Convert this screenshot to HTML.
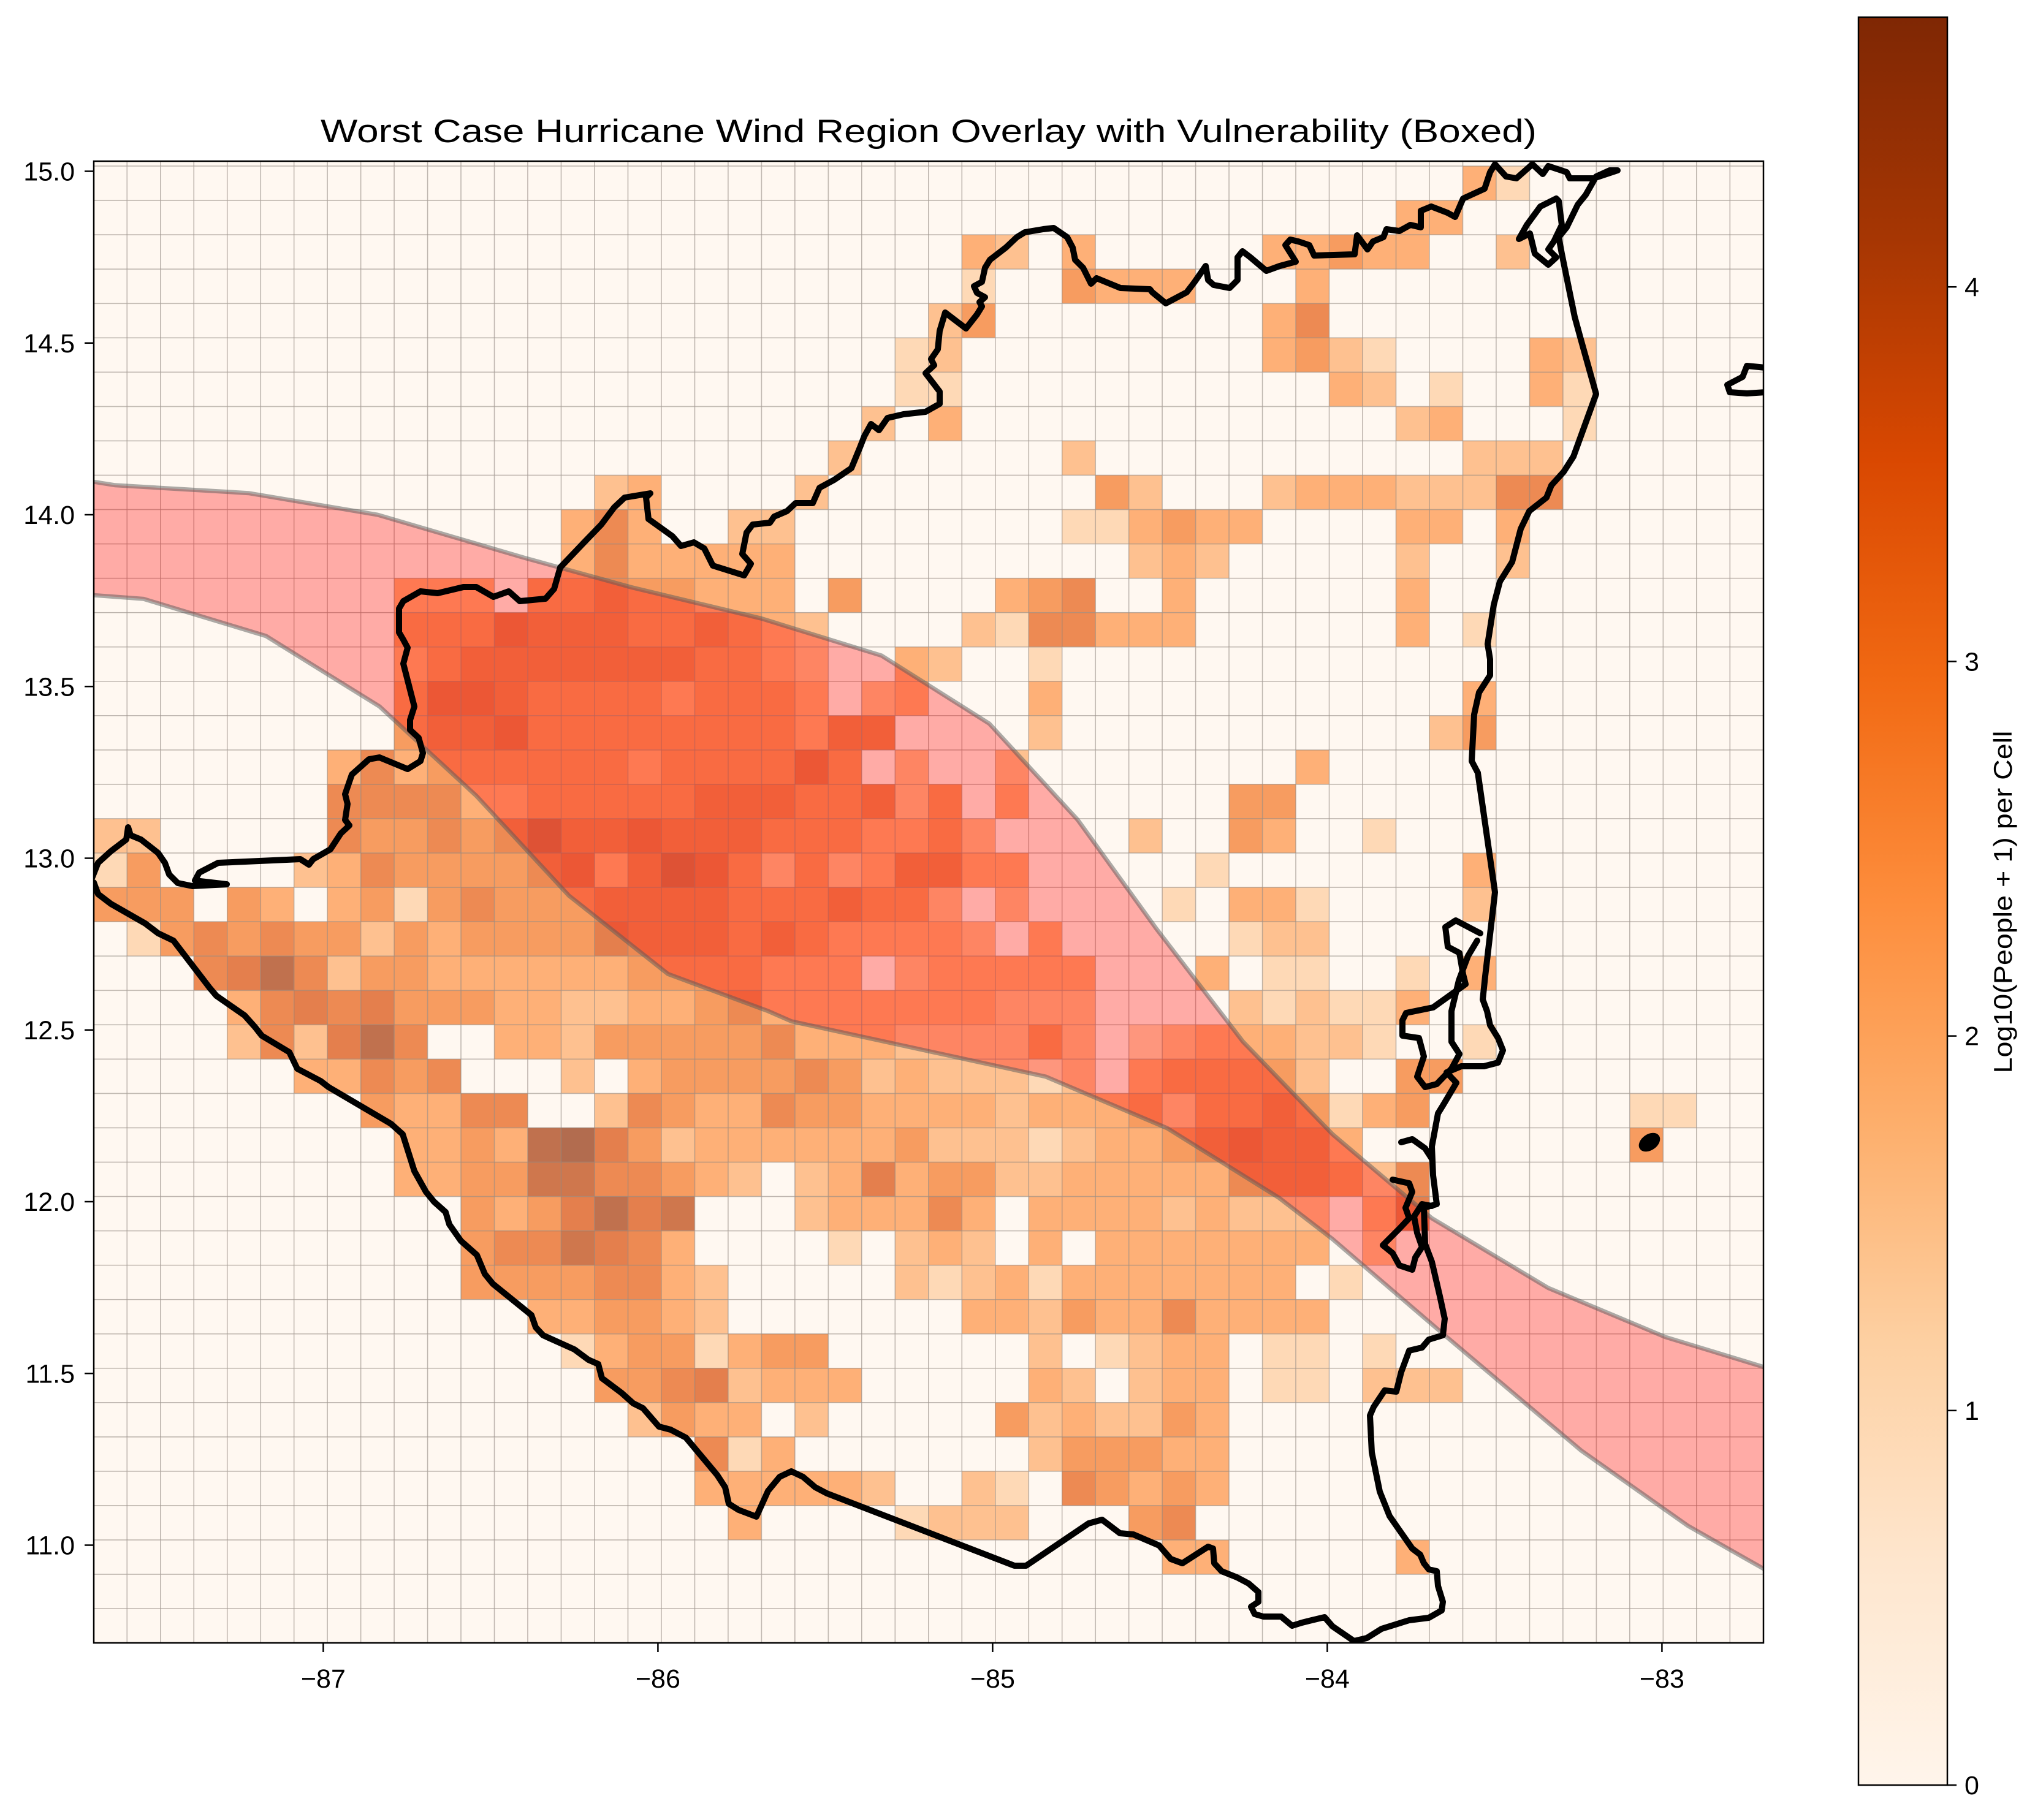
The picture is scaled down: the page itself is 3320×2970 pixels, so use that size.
<!DOCTYPE html>
<html><head><meta charset="utf-8">
<style>
html,body{margin:0;padding:0;background:#fff;}
svg{display:block;}
text{font-family:"Liberation Sans",sans-serif;fill:#000;}
</style></head>
<body>
<svg id="fig" width="3320" height="2970" viewBox="0 0 3320 2970" xmlns="http://www.w3.org/2000/svg">
<defs>
  <clipPath id="plotclip"><rect x="153" y="263" width="2724" height="2418"/></clipPath>
  <linearGradient id="cbgrad" x1="0" y1="1" x2="0" y2="0">
    <stop offset="0" stop-color="#fff5eb"/><stop offset="0.125" stop-color="#fee6ce"/>
    <stop offset="0.25" stop-color="#fdd0a2"/><stop offset="0.375" stop-color="#fdae6b"/>
    <stop offset="0.5" stop-color="#fd8d3c"/><stop offset="0.625" stop-color="#f16913"/>
    <stop offset="0.75" stop-color="#d94801"/><stop offset="0.875" stop-color="#a63603"/>
    <stop offset="1" stop-color="#7f2704"/>
  </linearGradient>
</defs>
<rect x="0" y="0" width="3320" height="2970" fill="#fff"/>
<text x="1515" y="232" font-size="53" text-anchor="middle" textLength="1984" lengthAdjust="spacingAndGlyphs">Worst Case Hurricane Wind Region Overlay with Vulnerability (Boxed)</text>
<g id="plot" clip-path="url(#plotclip)">
  <rect x="153" y="263" width="2724" height="2418" fill="#fff"/>
  <g id="cells"></g>
  <g id="band"></g>
  <g id="coast" fill="none" stroke="#000" stroke-width="10" stroke-linejoin="round" stroke-linecap="round">
    <path d="M153,1440 L160,1459 L181,1475 L237,1507 L258,1523 L283,1535 L342,1612 L353,1625 L399,1657 L416,1676 L427,1690 L472,1717 L485,1744 L523,1764 L536,1774 L638,1834 L657,1851 L676,1911 L695,1945 L708,1961 L727,1978 L733,1998 L752,2025 L778,2048 L791,2079 L804,2095 L867,2146 L874,2166 L886,2179 L937,2202 L960,2219 L976,2226 L982,2249 L1014,2273 L1033,2290 L1049,2298 L1075,2328 L1094,2333 L1119,2346 L1170,2407 L1183,2427 L1189,2454 L1205,2464 L1234,2475 L1253,2433 L1272,2410 L1291,2401 L1310,2410 L1330,2427 L1349,2437 L1655,2555 L1674,2555 L1776,2486 L1798,2480 L1827,2502 L1849,2504 L1891,2522 L1910,2544 L1929,2551 L1971,2524 L1979,2527 L1981,2551 L1993,2564 L2018,2574 L2037,2584 L2053,2598 L2053,2614 L2041,2622 L2047,2634 L2061,2638 L2090,2638 L2108,2653 L2124,2648 L2140,2644 L2161,2639 L2174,2654 L2209,2678 L2230,2673 L2254,2658 L2299,2644 L2331,2640 L2352,2628 L2354,2614 L2346,2588 L2344,2564 L2331,2561 L2323,2551 L2317,2537 L2304,2527 L2283,2497 L2267,2474 L2251,2434 L2238,2370 L2235,2310 L2241,2296 L2259,2269 L2278,2271 L2286,2239 L2299,2204 L2320,2199 L2331,2186 L2354,2179 L2357,2152 L2349,2115 L2336,2059 L2325,2030 L2323,1971 L2344,1965 L2338,1918 L2336,1871 L2346,1817 L2354,1804 L2376,1767 L2360,1750 L2384,1740 L2421,1740 L2444,1734 L2452,1714 L2444,1694 L2431,1673 L2426,1650 L2419,1631 L2423,1593 L2439,1456 L2411,1261 L2401,1242 L2405,1166 L2413,1130 L2431,1102 L2431,1076 L2427,1051 L2437,987 L2447,949 L2467,917 L2481,863 L2495,834 L2523,812 L2531,792 L2551,770 L2567,745 L2604,643 L2578,550 L2569,517 L2548,414 L2543,387 L2556,371 L2574,334 L2587,318 L2604,288 L2626,278 L2639,278 L2600,291 L2561,291 L2556,281 L2526,271 L2517,284 L2500,268 L2474,291 L2457,288 L2439,268 L2431,281 L2422,308 L2387,324 L2374,354 L2361,347 L2335,337 L2318,344 L2318,371 L2301,367 L2283,377 L2262,374 L2257,387 L2240,394 L2231,407 L2214,384 L2210,415 L2144,417 L2136,400 L2118,394 L2105,391 L2097,400 L2114,427 L2088,434 L2066,442 L2040,420 L2027,410 L2019,420 L2019,457 L2006,470 L1980,465 L1971,457 L1967,434 L1949,460 L1936,477 L1902,495 L1880,477 L1876,472 L1828,470 L1789,454 L1780,463 L1767,437 L1754,424 L1750,404 L1741,387 L1719,372 L1702,374 L1672,379 L1659,387 L1641,404 L1615,424 L1607,437 L1602,460 L1589,467 L1594,478 L1607,485 L1598,493 L1602,500 L1594,513 L1576,536 L1555,520 L1542,510 L1533,540 L1530,570 L1519,586 L1524,596 L1510,609 L1533,639 L1533,659 L1510,672 L1474,676 L1448,682 L1434,702 L1421,692 L1410,712 L1403,730 L1389,764 L1361,783 L1337,796 L1326,821 L1298,821 L1284,834 L1263,843 L1256,853 L1228,856 L1218,869 L1211,904 L1225,920 L1214,939 L1163,923 L1149,895 L1132,885 L1111,891 L1097,875 L1058,847 L1054,812 L1061,805 L1019,812 L1002,828 L981,856 L953,885 L914,926 L904,961 L890,977 L848,981 L830,965 L805,974 L777,958 L756,958 L714,968 L686,965 L658,981 L651,993 L651,1032 L658,1044 L665,1057 L658,1083 L676,1153 L669,1175 L669,1191 L683,1204 L690,1229 L686,1242 L665,1255 L619,1236 L602,1239 L574,1264 L563,1296 L567,1312 L563,1338 L570,1347 L556,1360 L539,1386 L511,1402 L504,1411 L490,1402 L356,1408 L325,1424 L318,1437 L370,1443 L314,1446 L290,1441 L276,1427 L269,1408 L258,1392 L230,1370 L213,1363 L209,1350 L206,1370 L181,1389 L160,1408 L150,1433"/>
    <path d="M2415,1523 L2375,1502 L2358,1513 L2362,1545 L2381,1555 L2387,1590 L2391,1606 L2338,1644 L2294,1653 L2288,1665 L2288,1690 L2315,1694 L2323,1724 L2312,1757 L2325,1774 L2344,1769 L2368,1744 L2381,1720 L2368,1700 L2368,1650 L2380,1600 L2395,1560 L2410,1535"/>
    <path d="M2286,1864 L2304,1859 L2325,1874 L2336,1891 M2272,1925 L2299,1931 L2304,1945 L2293,1971 L2299,1988 L2283,2005 L2256,2032 L2272,2045 L2283,2065 L2304,2072 L2309,2052 L2320,2035 L2312,2012 L2307,1985 L2320,1965 L2336,1968"/>
    <path d="M2539,324 L2513,337 L2491,367 L2478,390 L2496,381 L2504,414 L2526,432 L2539,420 L2526,407 L2535,394 L2548,367 L2543,328 Z"/>
    <path d="M2880,600 L2850,597 L2843,615 L2818,628 L2822,640 L2850,642 L2880,640"/>
    <ellipse cx="2691" cy="1864" rx="17" ry="11" fill="#000" stroke-width="4" transform="rotate(-35 2691 1864)"/>
  </g>
</g>
<rect x="153" y="263" width="2724" height="2418" fill="none" stroke="#000" stroke-width="2.5"/>
<g id="xaxis"></g>
<g id="yaxis"></g>
<g id="colorbar">
  <rect x="3032" y="28" width="145" height="2885" fill="url(#cbgrad)" stroke="#000" stroke-width="2.5"/>
  <text transform="translate(3282,1472) rotate(-90)" font-size="42" text-anchor="middle" textLength="559" lengthAdjust="spacingAndGlyphs">Log10(People + 1) per Cell</text>
</g>
</svg>
<script>
const levelRows = [
"0000000000 0000000000 0000000000 0000000000 0000000000",
"0000000000 0000000000 0000000000 0000000000 0310000000",
"0000000000 0000000000 0000000000 0000000003 3000000000",
"0000000000 0000000000 0000003203 0000033433 0020000000",
"0000000000 0000000000 0000001004 3330003000 0000000000",
"0000000000 0000000000 0000024000 0000035000 0000000000",
"0000000000 0000000000 0000120000 0000034210 0003200000",
"0000000000 0000000000 0000110000 0000000320 1003100000",
"0000000000 0000000000 0002030000 0000000002 3000100000",
"0000000000 0000000000 0020000002 0000000000 0222000000",
"0000000000 0000023000 0200000000 4200023332 2255000000",
"0000000000 0000353002 2000000001 1343300003 3030000000",
"0000000000 0000353333 3000000000 0232000002 0020000000",
"0000000003 3304454433 3040000345 0030000003 0000000000",
"0000000004 4465554454 3200002155 3330000003 0100000000",
"0000000003 4555555544 3200320010 0000000000 0000000000",
"0000000004 6654444344 4302300030 0000000000 0300000000",
"0000000004 5564444444 4355000020 0000000000 2400000000",
"0000000353 4444443444 4640200200 0000003000 0000000000",
"0000000555 5334444455 5445240300 0000440000 0000000000",
"2200000544 5457556555 4443342000 0200430010 0000000000",
"1400002354 4445635764 2423553300 0001000000 0300000000",
"4440430341 4544455554 4454420200 0010331000 0200000000",
"0145454424 3444465554 5433332030 0000122000 0000000000",
"0005685244 3333334444 3330233333 0003011001 0300000000",
"0000356564 4433223345 3333333222 0000212113 0000000000",
"0000252685 0033244444 5333222242 0123332210 0100000000",
"0000003354 5000203444 4542322212 0344442004 4000000000",
"0000000043 3550025433 5443333233 3424454134 0000001100",
"0000000003 3438964233 3333422212 3345655300 0000004000",
"0000000003 3447755432 0236344223 3333555425 0000000000",
"0000000000 0434686700 0233353033 3323222036 0000000000",
"0000000000 0455765300 0010232030 3333333020 0000000000",
"0000000000 0444455320 0000212313 3333330100 0000000000",
"0000000000 0003344320 0000003324 3353333000 0000000000",
"0000000000 0000134413 4400000020 1233011010 0000000000",
"0000000000 0000044562 3330000032 0233011022 2000000000",
"0000000000 0000002433 0200000423 2243000000 0000000000",
"0000000000 0000000051 3000000024 4433000000 0000000000",
"0000000000 0000000033 3332002105 4343000000 0000000000",
"0000000000 0000000003 0000122200 0450000000 0000000000",
"0000000000 0000000000 0000000000 0033000003 0000000000",
"0000000000 0000000000 0000000000 0000000000 0000000000",
"0000000000 0000000000 0000000000 0000000000 0000000000"
];
const levelValues = [0, 1.3, 1.9, 2.35, 2.8, 3.25, 3.55, 3.9, 4.15, 4.45];
const colorMax = 4.72;
const gridLon0 = -87.686;
const gridLonStep = 0.09978;
const gridLatTop = 15.115;
const gridLatStep = 0.1;
const xTickValues = [-87, -86, -85, -84, -83];
const xTickLabels = ["\u221287", "\u221286", "\u221285", "\u221284", "\u221283"];
const yTickValues = [15.0, 14.5, 14.0, 13.5, 13.0, 12.5, 12.0, 11.5, 11.0];
const yTickLabels = ["15.0", "14.5", "14.0", "13.5", "13.0", "12.5", "12.0", "11.5", "11.0"];
const cbTickValues = [0, 1, 2, 3, 4];
const cbTickLabels = ["0", "1", "2", "3", "4"];
const bandUpperLon = [-87.75, -87.686, -87.622, -87.223, -86.838, -86.400, -86.080, -85.691, -85.332, -85.010, -84.746, -84.510, -84.252, -83.984, -83.688, -83.340, -82.990, -82.727, -82.65];
const bandUpperLat = [14.097, 14.096, 14.086, 14.063, 14.000, 13.875, 13.789, 13.698, 13.590, 13.392, 13.112, 12.794, 12.466, 12.196, 11.952, 11.749, 11.606, 11.528, 11.505];
const bandLowerLon = [-87.75, -87.686, -87.537, -87.171, -86.832, -86.543, -86.266, -85.970, -85.671, -85.601, -84.841, -84.478, -84.144, -83.984, -83.649, -83.242, -82.922, -82.727, -82.65];
const bandLowerLat = [13.767, 13.766, 13.755, 13.647, 13.442, 13.182, 12.891, 12.663, 12.555, 12.525, 12.364, 12.214, 12.011, 11.891, 11.611, 11.276, 11.056, 10.948, 10.906];

const NS = "http://www.w3.org/2000/svg";
function xScale(lon){ return 527.4 + (lon + 87) * 546; }
function yScale(lat){ return 279.5 + (15 - lat) * 560.5; }
function cbScale(v){ return 2913 - v * 611.2; }
const OR = [[255,245,235],[254,230,206],[253,208,162],[253,174,107],[253,141,60],[241,105,19],[217,72,1],[166,54,3],[127,39,4]];
function oranges(v){
  let t = Math.max(0, Math.min(1, v / colorMax)) * 8;
  let i = Math.min(7, Math.floor(t)), f = t - i;
  const a = OR[i], b = OR[i+1];
  return "rgb(" + [0,1,2].map(k => Math.round(a[k] + (b[k]-a[k]) * f)).join(",") + ")";
}
function mk(tag, attrs){ const e = document.createElementNS(NS, tag); for (const k in attrs) e.setAttribute(k, attrs[k]); return e; }

const cellsG = document.getElementById("cells");
levelRows.forEach((rowStr, r) => {
  const row = rowStr.replace(/ /g, "");
  for (let c = 0; c < row.length; c++) {
    const v = levelValues[+row[c]];
    const x0 = xScale(gridLon0 + c * gridLonStep), x1 = xScale(gridLon0 + (c+1) * gridLonStep);
    const y0 = yScale(gridLatTop - r * gridLatStep), y1 = yScale(gridLatTop - (r+1) * gridLatStep);
    const rect = mk("rect", {x: x0, y: y0, width: x1 - x0, height: y1 - y0, fill: oranges(v), "fill-opacity": 0.7, stroke: "#9a9089", "stroke-opacity": 0.45, "stroke-width": 1.6});
    
    
    cellsG.appendChild(rect);
  }
});

const bandG = document.getElementById("band");
const up = bandUpperLon.map((lo, i) => xScale(lo).toFixed(1) + "," + yScale(bandUpperLat[i]).toFixed(1));
const lowPts = bandLowerLon.map((lo, i) => xScale(lo).toFixed(1) + "," + yScale(bandLowerLat[i]).toFixed(1));
const poly = mk("polygon", {points: up.concat(lowPts.slice().reverse()).join(" "), fill: "rgb(255,0,0)", "fill-opacity": 0.31, stroke: "none"});


bandG.appendChild(poly);
const upLine = mk("polyline", {points: up.join(" "), fill: "none", stroke: "rgb(90,90,90)", "stroke-opacity": 0.5, "stroke-width": 7});


bandG.appendChild(upLine);
const lowLine = mk("polyline", {points: lowPts.join(" "), fill: "none", stroke: "rgb(90,90,90)", "stroke-opacity": 0.5, "stroke-width": 7});


bandG.appendChild(lowLine);

const xG = document.getElementById("xaxis");
xTickValues.forEach((v, i) => {
  const x = xScale(v);
  const t = mk("line", {x1: x, y1: 2681, x2: x, y2: 2696, stroke: "#000", "stroke-width": 2.5});
  
  
  xG.appendChild(t);
  const lb = mk("text", {x: x, y: 2754, "font-size": 43, "text-anchor": "middle"});
  lb.textContent = xTickLabels[i];
  
  
  xG.appendChild(lb);
});
const yG = document.getElementById("yaxis");
yTickValues.forEach((v, i) => {
  const y = yScale(v);
  const t = mk("line", {x1: 138, y1: y, x2: 153, y2: y, stroke: "#000", "stroke-width": 2.5});
  
  
  yG.appendChild(t);
  const lb = mk("text", {x: 122, y: y + 15, "font-size": 43, "text-anchor": "end"});
  lb.textContent = yTickLabels[i];
  
  
  yG.appendChild(lb);
});
const cbG = document.getElementById("colorbar");
cbTickValues.forEach((v, i) => {
  const y = cbScale(v);
  const t = mk("line", {x1: 3177, y1: y, x2: 3192, y2: y, stroke: "#000", "stroke-width": 2.5});
  
  
  cbG.appendChild(t);
  const lb = mk("text", {x: 3205, y: y + 15, "font-size": 43, "text-anchor": "start"});
  lb.textContent = cbTickLabels[i];
  
  
  cbG.appendChild(lb);
});
</script>
</body></html>
